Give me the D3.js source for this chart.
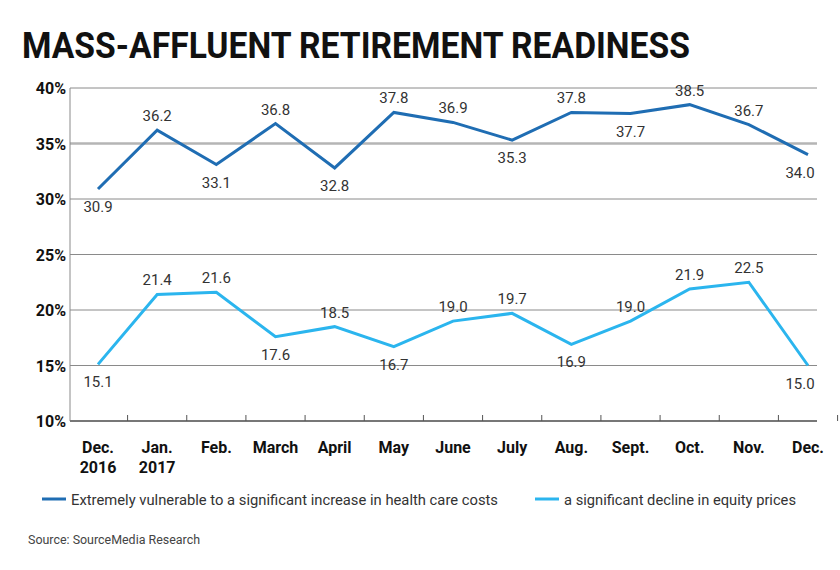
<!DOCTYPE html>
<html><head><meta charset="utf-8">
<script src="https://cdn.jsdelivr.net/npm/d3@7"></script>
<style>body{margin:0;background:#fff}text{font-family:"Roboto",sans-serif}</style>
</head><body><div id="chart"></div>
<script>
// data
const months = ["Dec.|2016","Jan.|2017","Feb.","March","April","May","June","July","Aug.","Sept.","Oct.","Nov.","Dec."];
const health = [30.9,36.2,33.1,36.8,32.8,37.8,36.9,35.3,37.8,37.7,38.5,36.7,34.0];
const equity = [15.1,21.4,21.6,17.6,18.5,16.7,19.0,19.7,16.9,19.0,21.9,22.5,15.0];
const yTicks = [10,15,20,25,30,35,40];
const seriesNames = ["Extremely vulnerable to a significant increase in health care costs","a significant decline in equity prices"];
const colors = ["#1f6db3","#2bb5ee"];

const svg = d3.select("#chart").append("svg").attr("width",840).attr("height",570);

svg.append("text").attr("x",22).attr("y",58).attr("font-size",36).attr("font-weight","bold")
  .attr("fill","#111").attr("textLength",668).attr("lengthAdjust","spacingAndGlyphs")
  .text("MASS-AFFLUENT RETIREMENT READINESS");

const pLeft = 70, pRight = 817, pTop = 88, pBottom = 421;
const x = d3.scalePoint().domain(d3.range(months.length)).range([98,808]);
const y = d3.scaleLinear().domain([10,40]).range([pBottom,pTop]);

// gridlines
svg.selectAll(".grid").data(yTicks).join("line")
  .attr("x1",pLeft).attr("x2",pRight).attr("y1",d=>y(d)).attr("y2",d=>y(d))
  .attr("stroke",d=>d===35?"#b5b5b5":"#8a8a8a").attr("stroke-width",d=>d===35?2.5:1);
svg.append("line").attr("x1",pLeft).attr("x2",pLeft).attr("y1",pTop).attr("y2",pBottom).attr("stroke","#8a8a8a");
svg.append("line").attr("x1",pLeft).attr("x2",pRight).attr("y1",pBottom).attr("y2",pBottom).attr("stroke","#777").attr("stroke-width",2);

// x ticks between months
const step = x.step();
svg.selectAll(".tk").data(d3.range(1,months.length+1)).join("line")
  .attr("x1",d=>x(0)+step*(d-0.5)).attr("x2",d=>x(0)+step*(d-0.5))
  .attr("y1",pBottom-6).attr("y2",pBottom).attr("stroke","#555");

svg.selectAll(".yl").data(yTicks).join("text")
  .attr("x",pLeft-4).attr("y",d=>y(d)+6).attr("text-anchor","end")
  .attr("font-size",16).attr("font-weight","bold").attr("fill","#111").text(d=>d+"%");

const xl = svg.selectAll(".xl").data(months).join("text")
  .attr("text-anchor","middle").attr("font-size",16).attr("font-weight","bold").attr("fill","#111");
xl.each(function(d,i){
  d3.select(this).selectAll("tspan").data(d.split("|")).join("tspan")
    .attr("x",x(i)).attr("y",(t,j)=>453+j*20).text(t=>t);
});

const line = d3.line().x((d,i)=>x(i)).y(d=>y(d));
[health,equity].forEach((s,k)=>{
  svg.append("path").datum(s).attr("d",line).attr("fill","none")
    .attr("stroke",colors[k]).attr("stroke-width",3);
  svg.selectAll(".lb"+k).data(s).join("text")
    .attr("x",(d,i)=>i===s.length-1?x(i)-8:x(i)).attr("text-anchor","middle").attr("font-size",15).attr("fill","#333")
    .attr("y",(d,i)=>{
      const prev = i>0?s[i-1]:null, next = i<s.length-1?s[i+1]:null;
      const n = [prev,next].filter(v=>v!==null);
      const below = n.every(v=>v>=d);
      return below ? y(d)+23 : y(d)-9;
    }).text(d=>d.toFixed(1));
});

// legend
const lx = [42,535], lw = [427,232];
seriesNames.forEach((n,k)=>{
  svg.append("line").attr("x1",lx[k]).attr("x2",lx[k]+24).attr("y1",499).attr("y2",499)
    .attr("stroke",colors[k]).attr("stroke-width",3);
  svg.append("text").attr("x",lx[k]+29).attr("y",505).attr("font-size",15).attr("fill","#333")
    .attr("textLength",lw[k]).attr("lengthAdjust","spacingAndGlyphs").text(n);
});
svg.append("text").attr("x",28).attr("y",544).attr("font-size",12).attr("fill","#444")
  .attr("textLength",172).attr("lengthAdjust","spacingAndGlyphs").text("Source: SourceMedia Research");
</script></body></html>
